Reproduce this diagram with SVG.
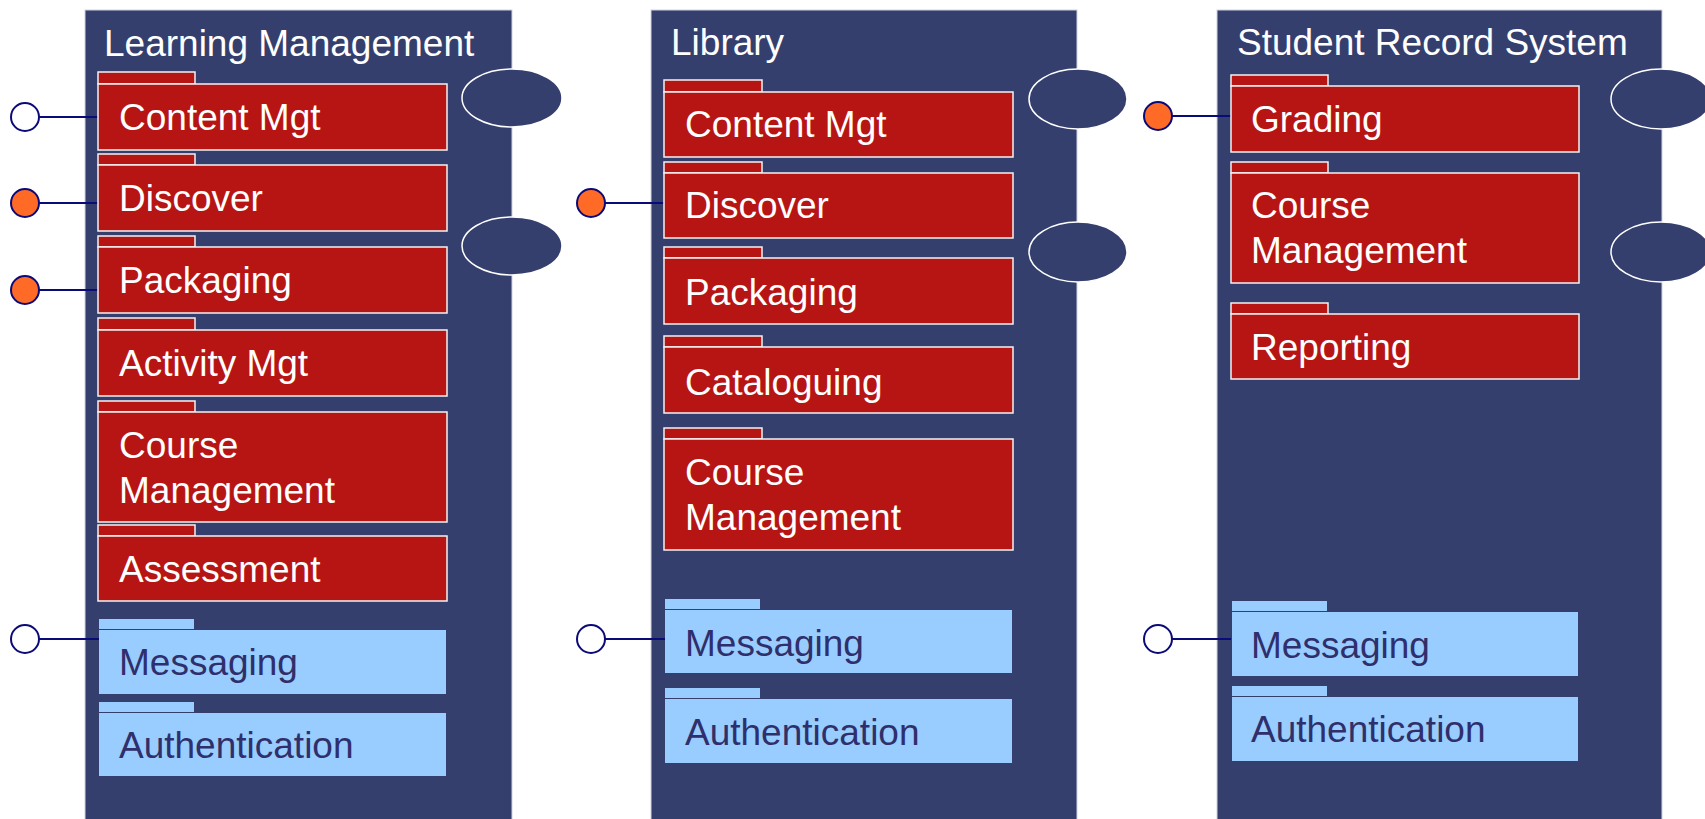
<svg xmlns="http://www.w3.org/2000/svg" width="1705" height="819" viewBox="0 0 1705 819">
<style>
.panel{fill:#353F6E;stroke:#D0D4E0;stroke-width:1}
.red{fill:#B71414;stroke:#F2F2F2;stroke-width:1.5}
.blue{fill:#99CCFF}
.t{font-family:"Liberation Sans",Arial,sans-serif;font-size:37px}
.w{fill:#FFFFFF}
.b{fill:#2F2F6B}
.port{fill:#353F6E;stroke:#FFFFFF;stroke-width:1.5}
.ifc{stroke:#0A0A78;stroke-width:2}
.open{fill:#FFFFFF}
.req{fill:#FF6A26}
.conn{stroke:#0A0A78;stroke-width:2;fill:none}
</style>
<rect width="1705" height="819" fill="#FFFFFF"/>

<g id="learning-management">
  <rect class="panel" x="85" y="10" width="427" height="815"/>
  <text class="t w" x="104" y="56">Learning Management</text>
</g>
<g id="library">
  <rect class="panel" x="651" y="10" width="426" height="815"/>
  <text class="t w" x="671" y="55">Library</text>
</g>
<g id="student-record-system">
  <rect class="panel" x="1217" y="10" width="445" height="815"/>
  <text class="t w" x="1237" y="55">Student Record System</text>
</g>

<g id="connectors">
  <line class="conn" x1="39" y1="117" x2="98" y2="117"/>
  <line class="conn" x1="39" y1="203" x2="98" y2="203"/>
  <line class="conn" x1="39" y1="290" x2="98" y2="290"/>
  <line class="conn" x1="39" y1="639" x2="99" y2="639"/>
  <line class="conn" x1="605" y1="203" x2="664" y2="203"/>
  <line class="conn" x1="605" y1="639" x2="665" y2="639"/>
  <line class="conn" x1="1172" y1="116" x2="1231" y2="116"/>
  <line class="conn" x1="1172" y1="639" x2="1231" y2="639"/>
</g>

<!-- Learning Management components -->
<g id="lm-content-mgt">
  <rect class="red" x="98" y="72" width="97" height="12"/>
  <rect class="red" x="98" y="84" width="349" height="66"/>
  <text class="t w" x="119" y="130">Content Mgt</text>
</g>
<g id="lm-discover">
  <rect class="red" x="98" y="154" width="97" height="11"/>
  <rect class="red" x="98" y="165" width="349" height="66"/>
  <text class="t w" x="119" y="211">Discover</text>
</g>
<g id="lm-packaging">
  <rect class="red" x="98" y="236" width="97" height="11"/>
  <rect class="red" x="98" y="247" width="349" height="66"/>
  <text class="t w" x="119" y="293">Packaging</text>
</g>
<g id="lm-activity-mgt">
  <rect class="red" x="98" y="318" width="97" height="12"/>
  <rect class="red" x="98" y="330" width="349" height="66"/>
  <text class="t w" x="119" y="376">Activity Mgt</text>
</g>
<g id="lm-course-management">
  <rect class="red" x="98" y="401" width="97" height="11"/>
  <rect class="red" x="98" y="412" width="349" height="110"/>
  <text class="t w" x="119" y="458">Course</text>
  <text class="t w" x="119" y="503">Management</text>
</g>
<g id="lm-assessment">
  <rect class="red" x="98" y="525" width="97" height="11"/>
  <rect class="red" x="98" y="536" width="349" height="65"/>
  <text class="t w" x="119" y="582">Assessment</text>
</g>
<g id="lm-messaging">
  <rect class="blue" x="99" y="619" width="95" height="10"/>
  <rect class="blue" x="99" y="630" width="347" height="64"/>
  <text class="t b" x="119" y="675">Messaging</text>
</g>
<g id="lm-authentication">
  <rect class="blue" x="99" y="702" width="95" height="10"/>
  <rect class="blue" x="99" y="713" width="347" height="63"/>
  <text class="t b" x="119" y="758">Authentication</text>
</g>
<g id="lm-port-1"><ellipse class="port" cx="512" cy="98" rx="50" ry="29"/></g>
<g id="lm-port-2"><ellipse class="port" cx="512" cy="246" rx="50" ry="29"/></g>
<g id="lm-if-content"><circle class="ifc open" cx="25" cy="117" r="14"/></g>
<g id="lm-if-discover"><circle class="ifc req" cx="25" cy="203" r="14"/></g>
<g id="lm-if-packaging"><circle class="ifc req" cx="25" cy="290" r="14"/></g>
<g id="lm-if-messaging"><circle class="ifc open" cx="25" cy="639" r="14"/></g>

<!-- Library components -->
<g id="lib-content-mgt">
  <rect class="red" x="664" y="80" width="98" height="12"/>
  <rect class="red" x="664" y="92" width="349" height="65"/>
  <text class="t w" x="685" y="137">Content Mgt</text>
</g>
<g id="lib-discover">
  <rect class="red" x="664" y="162" width="98" height="11"/>
  <rect class="red" x="664" y="173" width="349" height="65"/>
  <text class="t w" x="685" y="218">Discover</text>
</g>
<g id="lib-packaging">
  <rect class="red" x="664" y="247" width="98" height="11"/>
  <rect class="red" x="664" y="258" width="349" height="66"/>
  <text class="t w" x="685" y="305">Packaging</text>
</g>
<g id="lib-cataloguing">
  <rect class="red" x="664" y="336" width="98" height="11"/>
  <rect class="red" x="664" y="347" width="349" height="66"/>
  <text class="t w" x="685" y="395">Cataloguing</text>
</g>
<g id="lib-course-management">
  <rect class="red" x="664" y="428" width="98" height="11"/>
  <rect class="red" x="664" y="439" width="349" height="111"/>
  <text class="t w" x="685" y="485">Course</text>
  <text class="t w" x="685" y="530">Management</text>
</g>
<g id="lib-messaging">
  <rect class="blue" x="665" y="599" width="95" height="10"/>
  <rect class="blue" x="665" y="610" width="347" height="63"/>
  <text class="t b" x="685" y="656">Messaging</text>
</g>
<g id="lib-authentication">
  <rect class="blue" x="665" y="688" width="95" height="10"/>
  <rect class="blue" x="665" y="699" width="347" height="64"/>
  <text class="t b" x="685" y="745">Authentication</text>
</g>
<g id="lib-port-1"><ellipse class="port" cx="1078" cy="99" rx="49" ry="30"/></g>
<g id="lib-port-2"><ellipse class="port" cx="1078" cy="252" rx="49" ry="30"/></g>
<g id="lib-if-discover"><circle class="ifc req" cx="591" cy="203" r="14"/></g>
<g id="lib-if-messaging"><circle class="ifc open" cx="591" cy="639" r="14"/></g>

<!-- Student Record System components -->
<g id="srs-grading">
  <rect class="red" x="1231" y="75" width="97" height="11"/>
  <rect class="red" x="1231" y="86" width="348" height="66"/>
  <text class="t w" x="1251" y="132">Grading</text>
</g>
<g id="srs-course-management">
  <rect class="red" x="1231" y="162" width="97" height="11"/>
  <rect class="red" x="1231" y="173" width="348" height="110"/>
  <text class="t w" x="1251" y="218">Course</text>
  <text class="t w" x="1251" y="263">Management</text>
</g>
<g id="srs-reporting">
  <rect class="red" x="1231" y="303" width="97" height="11"/>
  <rect class="red" x="1231" y="314" width="348" height="65"/>
  <text class="t w" x="1251" y="360">Reporting</text>
</g>
<g id="srs-messaging">
  <rect class="blue" x="1232" y="601" width="95" height="10"/>
  <rect class="blue" x="1232" y="612" width="346" height="64"/>
  <text class="t b" x="1251" y="658">Messaging</text>
</g>
<g id="srs-authentication">
  <rect class="blue" x="1232" y="686" width="95" height="10"/>
  <rect class="blue" x="1232" y="697" width="346" height="64"/>
  <text class="t b" x="1251" y="742">Authentication</text>
</g>
<g id="srs-port-1"><ellipse class="port" cx="1661" cy="99" rx="50" ry="30"/></g>
<g id="srs-port-2"><ellipse class="port" cx="1661" cy="252" rx="50" ry="30"/></g>
<g id="srs-if-grading"><circle class="ifc req" cx="1158" cy="116" r="14"/></g>
<g id="srs-if-messaging"><circle class="ifc open" cx="1158" cy="639" r="14"/></g>
</svg>
